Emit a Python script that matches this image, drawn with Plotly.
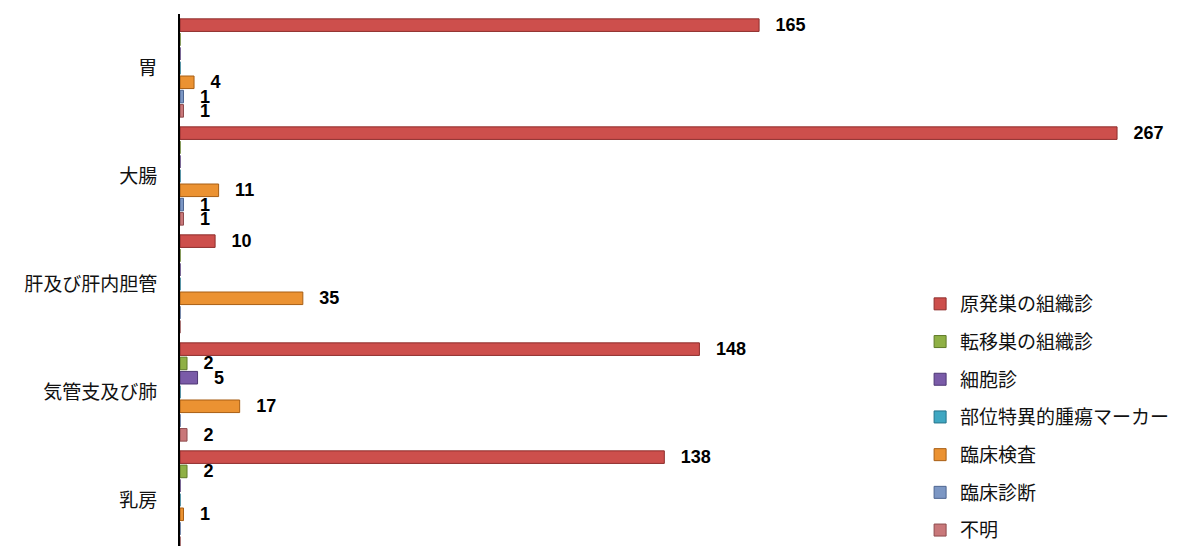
import plotly.graph_objects as go

categories = ["胃", "大腸", "肝及び肝内胆管", "気管支及び肺", "乳房"]
series_names = ["原発巣の組織診", "転移巣の組織診", "細胞診", "部位特異的腫瘍マーカー",
                "臨床検査", "臨床診断", "不明"]
primary_histology = [165, 267, 10, 148, 138]
metastatic_histology = [0, 0, 0, 2, 2]
cytology = [0, 0, 0, 5, 0]
tumor_marker = [0, 0, 0, 0, 0]
clinical_test = [4, 11, 35, 17, 1]
clinical_diagnosis = [1, 1, 0, 0, 0]
unknown = [1, 1, 0, 2, 0]

series_values = [primary_histology, metastatic_histology, cytology, tumor_marker,
                 clinical_test, clinical_diagnosis, unknown]
colors = ["#CD4F4C", "#8FB045", "#7A5BA8", "#3FA7C2", "#EB9232", "#7C97C4", "#C9787A"]
edges = ["#8E2E2C", "#5F7A28", "#4E3774", "#23728A", "#A85E14", "#4D6590", "#8E4B4D"]

fig = go.Figure()
for name, vals, c, e in zip(series_names, series_values, colors, edges):
    fig.add_trace(go.Bar(
        y=categories, x=vals, name=name, orientation="h",
        marker=dict(color=c, line=dict(color=e, width=1)),
        text=[f"\u2002\u2005{v}" if v else "" for v in vals],
        textposition="outside", constraintext="none", cliponaxis=False,
        textfont=dict(family="Liberation Sans", size=18, color="#000000", weight="bold"),
        legendgroup=name,
    ))

fig.update_layout(
    width=1181, height=538,
    margin=dict(l=172, r=0, t=6, b=0, autoexpand=False),
    paper_bgcolor="white", plot_bgcolor="white",
    barmode="group", bargap=0.074, bargroupgap=0.12,
    font=dict(family="Noto Sans CJK JP", size=19, color="#111111"),
    showlegend=True,
    legend=dict(x=0.7335, y=0.4906, xanchor="left", yanchor="top",
                traceorder="grouped", tracegroupgap=10,
                font=dict(family="Noto Sans CJK JP", size=19, color="#111111"),
                bgcolor="rgba(0,0,0,0)"),
    xaxis=dict(range=[0, 287.5], showgrid=False, zeroline=False, showline=False,
               showticklabels=False, ticks="", automargin=False),
    yaxis=dict(range=[4.426, -0.5], showgrid=False, zeroline=False, showline=True,
               linecolor="black", linewidth=2, ticks="", ticklabelstandoff=17,
               automargin=False,
               tickfont=dict(family="Noto Sans CJK JP", size=19, color="#111111")),
)

fig.write_html("out.html")
